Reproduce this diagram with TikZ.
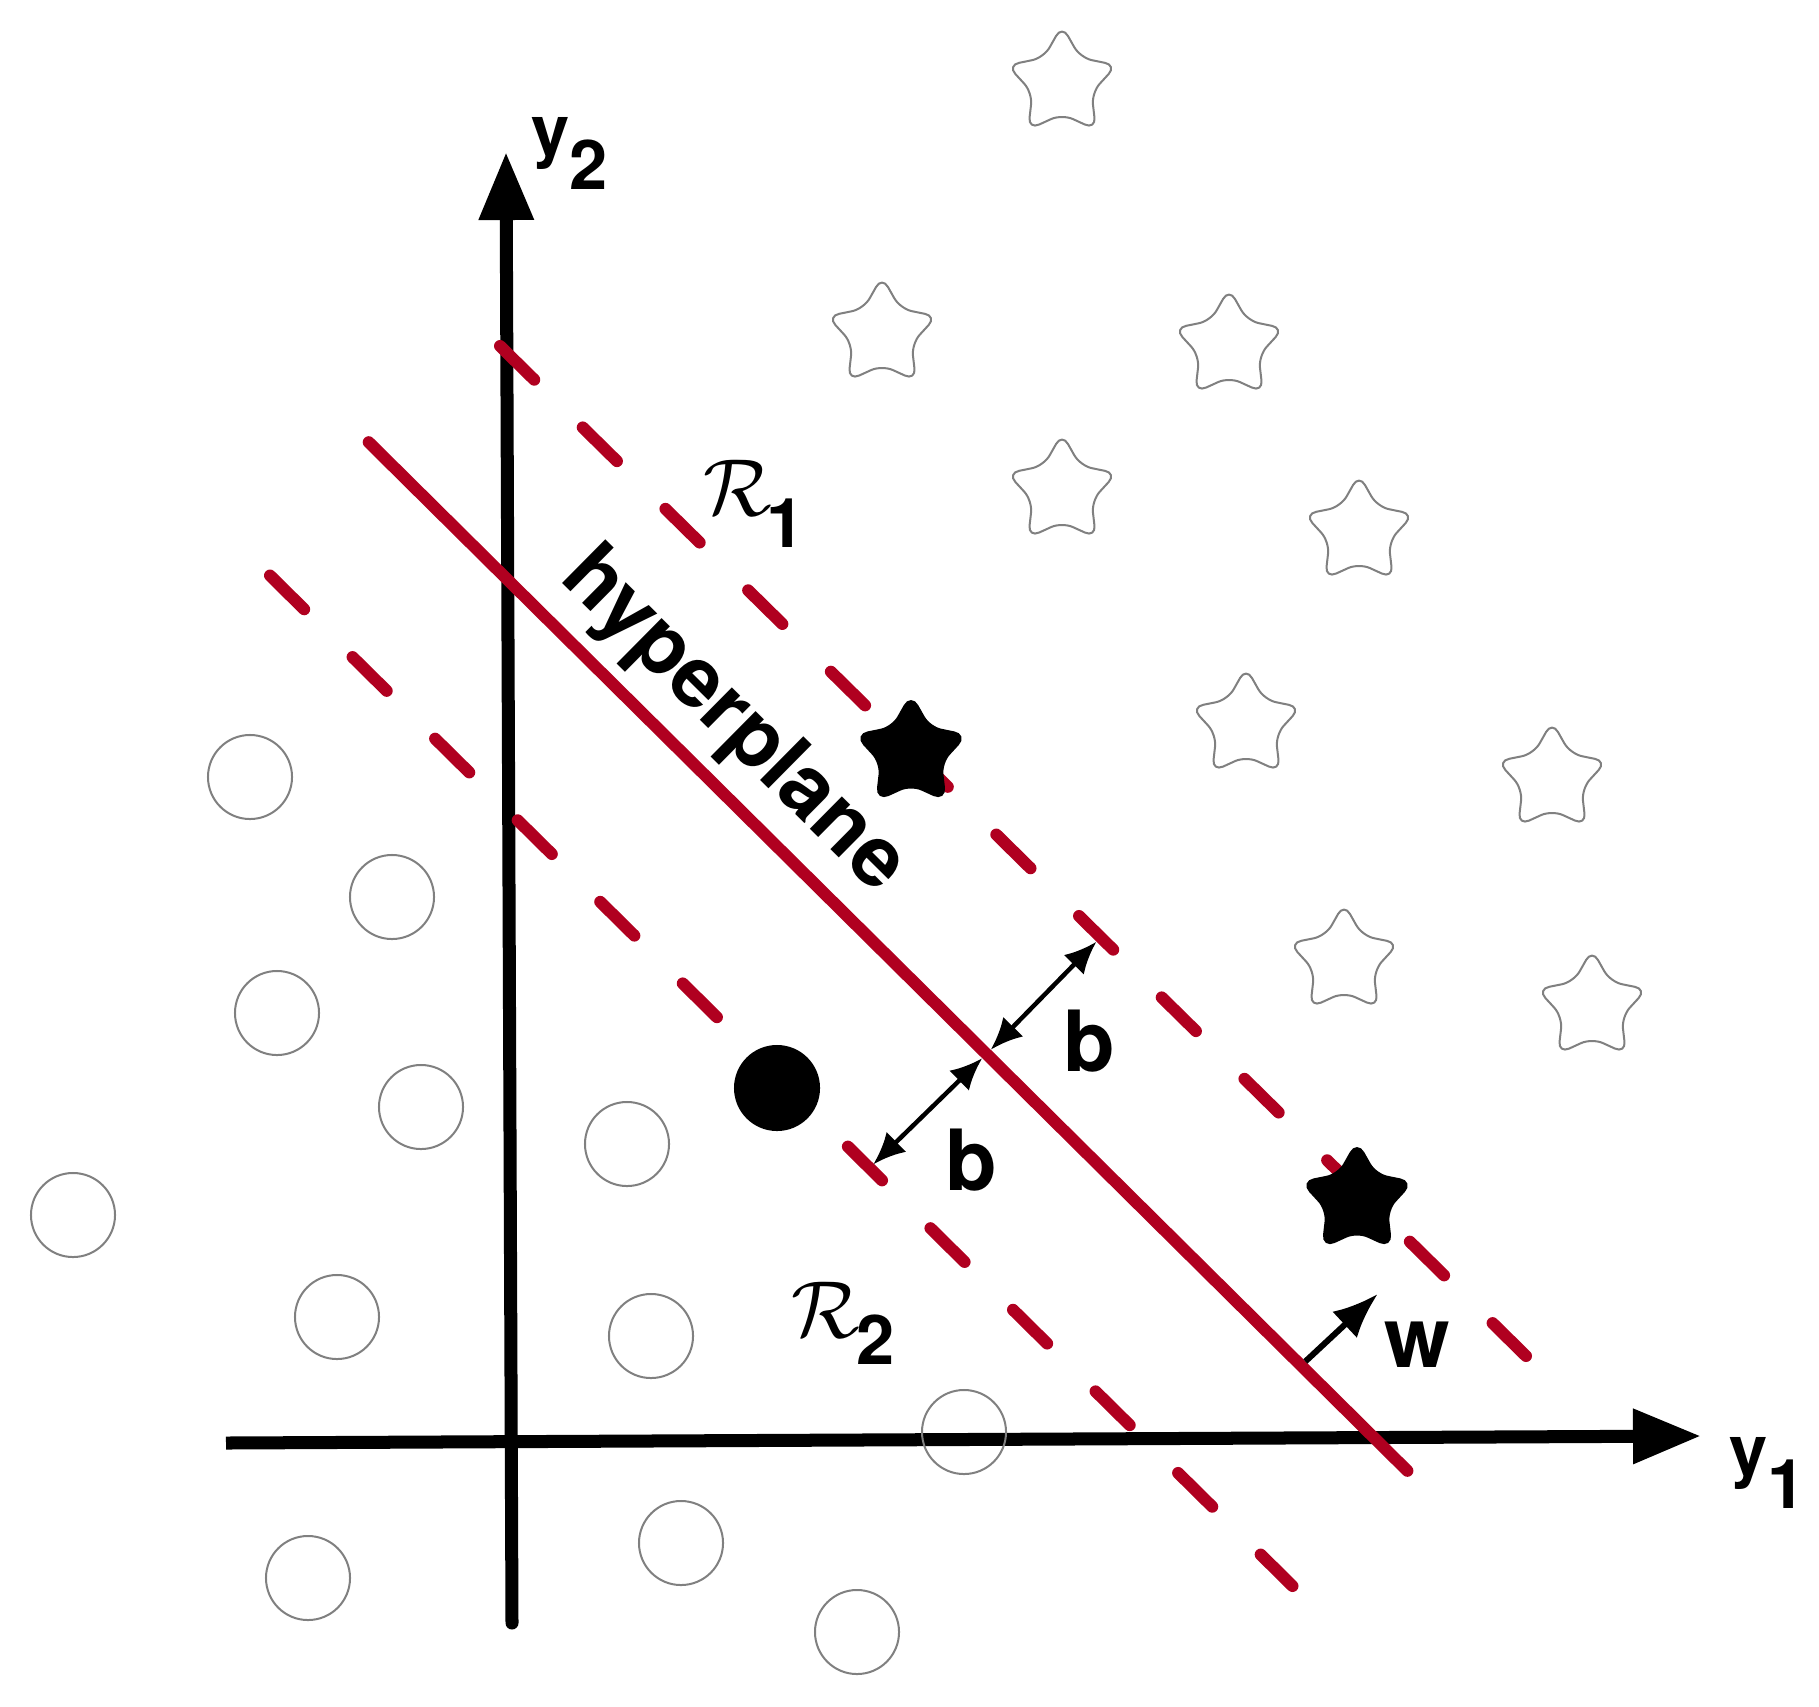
\documentclass[tikz,border=0pt]{standalone}
\usepackage{fix-cm}
\usepackage{fontspec}
\setmainfont{TeX Gyre Heros}
\usepackage{tikz}
\definecolor{hypred}{RGB}{176,0,32}
\definecolor{markgray}{RGB}{128,128,128}
\tikzstyle{ostar}=[star,star points=5,star point ratio=1.85,minimum size=1.15cm,
inner sep=0pt,draw=markgray,line width=0.02cm,rounded corners=0.12cm]
\tikzstyle{fstar}=[ostar,draw=black,fill=black,line width=0.03cm]
\tikzstyle{ocirc}=[circle,minimum size=0.84cm,inner sep=0pt,draw=markgray,line width=0.02cm]
\tikzstyle{fcirc}=[ocirc,draw=black,fill=black]
\tikzstyle{axisline}=[line width=0.13cm,-{Triangle[length=0.68cm,width=0.52cm]}]
\tikzstyle{hplane}=[line width=0.12cm,draw=hypred,line cap=round]
\tikzstyle{mline}=[hplane,dash pattern=on 0.48cm off 0.68cm]
\tikzstyle{barrow}=[line width=0.045cm,{Latex[length=0.32cm,width=0.28cm]}-{Latex[length=0.32cm,width=0.28cm]},
shorten <=0.06cm,shorten >=0.06cm]
\tikzstyle{warrow}=[line width=0.06cm,-{Latex[length=0.45cm,width=0.36cm]},shorten <=0.06cm]
\tikzstyle{biglab}=[inner sep=0pt,font=\fontsize{24}{24}\selectfont\bfseries]
\tikzstyle{axlab}=[inner sep=0pt,font=\fontsize{19.5}{20}\selectfont\bfseries]
\tikzstyle{reglab}=[inner sep=0pt,font=\fontsize{23}{23}\selectfont]
\newcommand{\lowsub}[2][0.34cm]{\raisebox{-#1}{\fontsize{19.5}{20}\selectfont\bfseries #2}}
\usetikzlibrary{arrows.meta,positioning,shapes}

\begin{document}
\begin{tikzpicture}[x=0.01cm,y=-0.01cm]
            \fill[white] (0,0) rectangle (1819,1706);
            \useasboundingbox (0,0) rectangle (1819,1706);

            % AXES PART

            \coordinate (o1) at (226,1443);
            \coordinate (y1tip) at (1701,1436);
            \coordinate (o2) at (512,1623);
            \coordinate (y2tip) at (506,152);

            \draw[axisline] (o1) -- (y1tip);
            \draw[axisline,line cap=round] (o2) -- (y2tip);

            \node[axlab,anchor=base west] (y1lab) at (1729,1474) {y\lowsub{1}};
            \node[axlab,anchor=base west] (y2lab) at (531,155) {y\lowsub{2}};

            % HYPERPLANE PART

            \coordinate (s1) at (368.7,442.2);
            \coordinate (s2) at (1407.4,1470.8);
            \coordinate (u1) at (500,346);
            \coordinate (u2) at (1526,1356);
            \coordinate (l1) at (270,575.5);
            \coordinate (l2) at (1292.5,1586);

            \draw[hplane] (s1) -- (s2);
            \draw[mline] (u1) -- (u2);
            \draw[mline] (l1) -- (l2);

            \node[biglab,rotate=-44.7,anchor=base west] (hyp) at (557.5,579) {hyperplane};
            \node[reglab,anchor=base west] (r1) at (703,515) {$\mathcal{R}$\hspace{-0.06cm}\lowsub[0.32cm]{1}};
            \node[reglab,anchor=base west] (r2) at (791,1337) {$\mathcal{R}$\hspace{-0.04cm}\lowsub[0.27cm]{2}};

            % MARGIN PART

            \coordinate (bU) at (1100.5,937.5);
            \coordinate (bC) at (986.5,1054);
            \coordinate (bL) at (869,1168.5);
            \coordinate (wC) at (1301,1365.5);
            \coordinate (wT) at (1377.7,1294);

            \draw[barrow] (bC) -- (bU);
            \draw[barrow] (bC) -- (bL);
            \draw[warrow] (wC) -- (wT);

            \node[biglab,anchor=base west] (bup) at (1063,1071) {b};
            \node[biglab,anchor=base west] (blow) at (945,1190) {b};
            \node[biglab,anchor=base west] (wlab) at (1384,1367) {w};

            % CIRCLES PART

            \node[ocirc] (c1) at (250,777) {};
            \node[ocirc] (c2) at (392,897) {};
            \node[ocirc] (c3) at (277,1013) {};
            \node[ocirc] (c4) at (421,1107) {};
            \node[ocirc] (c5) at (73,1215) {};
            \node[ocirc] (c6) at (337,1317) {};
            \node[ocirc] (c7) at (627,1144) {};
            \node[ocirc] (c8) at (651,1336) {};
            \node[ocirc] (c9) at (964,1432) {};
            \node[ocirc] (c10) at (308,1578) {};
            \node[ocirc] (c11) at (681,1543) {};
            \node[ocirc] (c12) at (857,1632) {};
            \node[fcirc] (csv) at (777,1088) {};

            % STARS PART

            \node[ostar] (st1) at (1062,83) {};
            \node[ostar] (st2) at (882,334) {};
            \node[ostar] (st3) at (1229,346) {};
            \node[ostar] (st4) at (1062,491) {};
            \node[ostar] (st5) at (1359,532) {};
            \node[ostar] (st6) at (1246,725) {};
            \node[ostar] (st7) at (1552,779) {};
            \node[ostar] (st8) at (1344,961) {};
            \node[ostar] (st9) at (1592,1007) {};
            \node[fstar] (ssv1) at (911,753) {};
            \node[fstar] (ssv2) at (1357,1200) {};

\end{tikzpicture}
\end{document}
